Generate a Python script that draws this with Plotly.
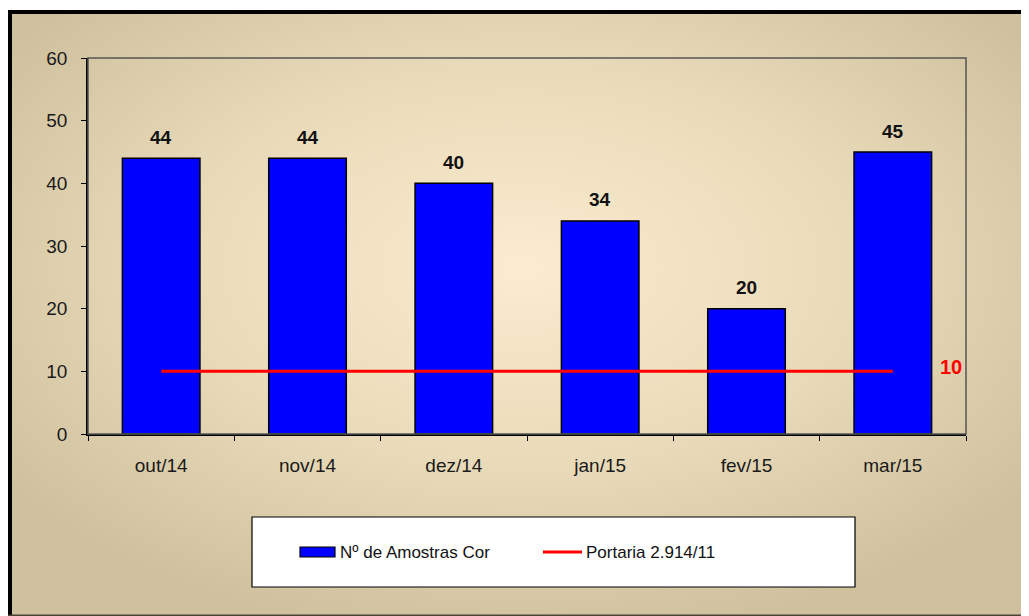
import base64
import plotly.graph_objects as go

categories = ["out/14", "nov/14", "dez/14", "jan/15", "fev/15", "mar/15"]
amostras = [44, 44, 40, 34, 20, 45]
portaria = [10, 10, 10, 10, 10, 10]
name_bar = "Nº de Amostras Cor"
name_line = "Portaria 2.914/11"
y_ticks = [0, 10, 20, 30, 40, 50, 60]

OFF = 8  # page body margin
W, H = 1029 - OFF, 616 - OFF
L, R, T, B = 88 - OFF, 966 - OFF, 58 - OFF, 434 - OFF


def xp(px):
    # px given in screen coordinates
    return (px - OFF - L) / (R - L)


def yp(py):
    return (B - (py - OFF)) / (B - T)


FONT = "Liberation Sans, Arial, sans-serif"

svg = (
    '<svg xmlns="http://www.w3.org/2000/svg" width="1017" height="600" '
    'viewBox="0 0 1017 600" preserveAspectRatio="none">'
    '<defs><radialGradient id="g" cx="0.5" cy="0.42" r="0.62">'
    '<stop offset="0" stop-color="#FCEBD0"/>'
    '<stop offset="0.55" stop-color="#E8DAB8"/>'
    '<stop offset="1" stop-color="#CFC19E"/>'
    '</radialGradient></defs>'
    '<rect x="0" y="0" width="1017" height="600" fill="url(#g)"/></svg>'
)
src = "data:image/svg+xml;base64," + base64.b64encode(svg.encode()).decode()

fig = go.Figure()
fig.add_trace(go.Bar(
    x=categories, y=amostras, name=name_bar,
    marker=dict(color="#0000FF", line=dict(color="#000000", width=1.5)),
    width=0.53, showlegend=False,
))
fig.add_trace(go.Scatter(
    x=categories, y=portaria, name=name_line, mode="lines",
    line=dict(color="#FF0000", width=3), showlegend=False,
))

annotations = []
for c, v in zip(categories, amostras):
    annotations.append(dict(
        x=c, y=v, xref="x", yref="y", text=str(v), showarrow=False,
        yshift=21, font=dict(family=FONT, size=19, color="#111111", weight="bold"),
    ))
annotations.append(dict(
    x=xp(951), y=portaria[-1], xref="paper", yref="y", text=str(portaria[-1]),
    showarrow=False, xanchor="center", yshift=4,
    font=dict(family=FONT, size=20, color="#FF0000", weight="bold"),
))
# legend texts
annotations.append(dict(
    x=xp(338), y=yp(552), xref="paper", yref="paper", text=name_bar,
    showarrow=False, xanchor="left", yanchor="middle",
    font=dict(family=FONT, size=17, color="#111111"),
))
annotations.append(dict(
    x=xp(584), y=yp(552), xref="paper", yref="paper", text=name_line,
    showarrow=False, xanchor="left", yanchor="middle",
    font=dict(family=FONT, size=17, color="#111111"),
))

frame = dict(color="#000000", width=4)
shapes = [
    # plot area border
    dict(type="rect", xref="paper", yref="paper", x0=0, x1=1, y0=0, y1=1,
         line=dict(color="#555555", width=1.5), layer="above"),
    # outer frame: left, top, bottom edges
    dict(type="line", xref="paper", yref="paper", x0=xp(10), x1=xp(10),
         y0=yp(616), y1=yp(10), line=frame),
    dict(type="line", xref="paper", yref="paper", x0=xp(8), x1=xp(1029),
         y0=yp(12), y1=yp(12), line=frame),
    dict(type="line", xref="paper", yref="paper", x0=xp(8), x1=xp(1029),
         y0=yp(615.5), y1=yp(615.5), line=dict(color="#4a4235", width=2)),
    # legend box
    dict(type="rect", xref="paper", yref="paper", x0=xp(252), x1=xp(855),
         y0=yp(587), y1=yp(517), fillcolor="#FFFFFF",
         line=dict(color="#000000", width=1.2)),
    # legend bar symbol
    dict(type="rect", xref="paper", yref="paper", x0=xp(300), x1=xp(335),
         y0=yp(557), y1=yp(547), fillcolor="#0000FF",
         line=dict(color="#000000", width=1.2)),
    # legend line symbol
    dict(type="line", xref="paper", yref="paper", x0=xp(543), x1=xp(582),
         y0=yp(552), y1=yp(552), line=dict(color="#FF0000", width=3)),
]

fig.update_layout(
    width=W, height=H,
    margin=dict(l=L, r=W - R, t=T, b=H - B, autoexpand=False),
    paper_bgcolor="#FFFFFF",
    plot_bgcolor="rgba(0,0,0,0)",
    showlegend=False,
    bargap=0.47,
    font=dict(family=FONT, size=17, color="#1a1a1a"),
    images=[dict(
        source=src, xref="paper", yref="paper",
        x=xp(12), y=yp(14), sizex=(1029 - 12) / (R - L), sizey=(616 - 14) / (B - T),
        xanchor="left", yanchor="top", sizing="stretch", layer="below",
    )],
    shapes=shapes,
    annotations=annotations,
    xaxis=dict(
        type="category", showline=True, linecolor="#000000", linewidth=1.5,
        ticks="outside", ticklen=5, tickcolor="#000000", tickson="boundaries",
        showgrid=False, ticklabelstandoff=13,
        tickfont=dict(family=FONT, size=19, color="#1a1a1a"),
    ),
    yaxis=dict(
        range=[0, 60], tickvals=y_ticks, showline=True, linecolor="#000000",
        linewidth=1.5, ticks="outside", ticklen=5, tickcolor="#000000",
        showgrid=False, zeroline=False, ticklabelstandoff=10,
        tickfont=dict(family=FONT, size=19, color="#1a1a1a"),
    ),
)

fig.write_html(
    "out.html",
    post_script="document.documentElement.style.overflow='hidden';document.body.style.overflow='hidden';",
)
